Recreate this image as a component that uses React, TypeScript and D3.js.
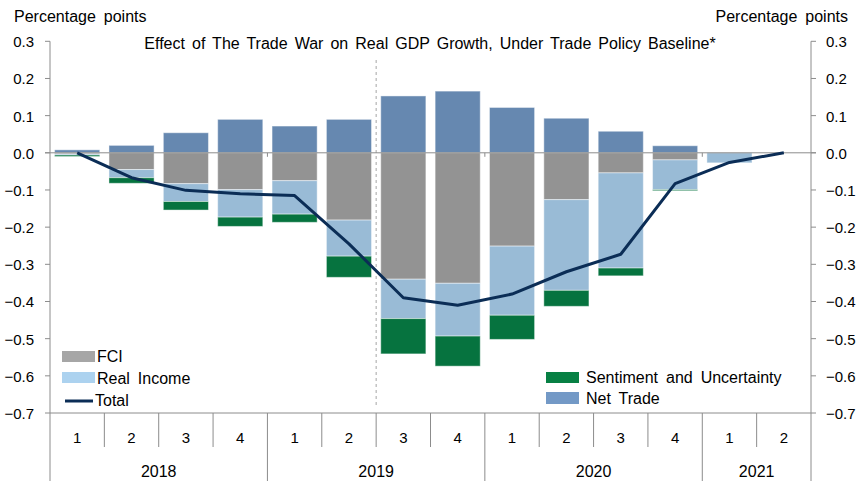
import React from "react";
import * as d3 from "d3";

const quarters = ["1", "2", "3", "4", "1", "2", "3", "4", "1", "2", "3", "4", "1", "2"];
const years = ["2018", "2019", "2020", "2021"];
const yearQuarterCounts = [4, 4, 4, 2];
const netTrade = [0.008, 0.02, 0.054, 0.09, 0.072, 0.09, 0.153, 0.166, 0.122, 0.093, 0.058, 0.019, 0, 0];
const fci = [-0.003, -0.045, -0.083, -0.099, -0.075, -0.181, -0.34, -0.351, -0.251, -0.126, -0.054, -0.019, 0, 0];
const realIncome = [-0.003, -0.022, -0.048, -0.074, -0.09, -0.097, -0.106, -0.142, -0.186, -0.244, -0.256, -0.08, -0.027, 0];
const sentiment = [-0.004, -0.015, -0.023, -0.025, -0.022, -0.057, -0.095, -0.081, -0.065, -0.043, -0.021, -0.003, 0, 0];
const total = [0, -0.067, -0.101, -0.11, -0.115, -0.245, -0.39, -0.41, -0.38, -0.32, -0.273, -0.083, -0.026, 0];
const yTicks = [0.3, 0.2, 0.1, 0.0, -0.1, -0.2, -0.3, -0.4, -0.5, -0.6, -0.7];

const W = 858;
const H = 481;
const FONT = "'Liberation Sans', Arial, sans-serif";

const seriesKeys = ["netTrade", "fci", "realIncome", "sentiment"];
const barColors: Record<string, string> = {
  netTrade: "#6688b0",
  fci: "#939393",
  realIncome: "#99bbd6",
  sentiment: "#06733f",
};

export default function App() {
  const idx = quarters.map((_, i) => i);
  const x = d3.scaleBand<number>().domain(idx).range([50, 811]).paddingInner(0.17).paddingOuter(0.085);
  const y = d3.scaleLinear().domain([-0.7, 0.3]).range([413, 41.3]);
  const step = x.step();
  const boundary = (k: number) => 50 + k * step;

  const rows = idx.map((i) => ({
    i,
    netTrade: netTrade[i],
    fci: fci[i],
    realIncome: realIncome[i],
    sentiment: sentiment[i],
  }));
  const stacked = d3.stack<any>().keys(seriesKeys).offset(d3.stackOffsetDiverging)(rows);

  const line = d3
    .line<number>()
    .x((_, i) => (x(i) as number) + x.bandwidth() / 2)
    .y((d) => y(d));

  let acc = 0;
  const yearSpans = years.map((yr, k) => {
    const start = acc;
    acc += yearQuarterCounts[k];
    return { yr, start, end: acc };
  });

  const fmt = d3.format(".1f");
  const tick = { fontFamily: FONT, fontSize: 15, fill: "#000" } as React.CSSProperties;
  const txt = { fontFamily: FONT, fontSize: 16, fill: "#000", wordSpacing: 3.5 } as React.CSSProperties;
  const title = { fontFamily: FONT, fontSize: 16, fill: "#000", wordSpacing: 2.6 } as React.CSSProperties;

  return (
    <svg width={W} height={H} style={{ position: "absolute", left: 0, top: 0, background: "#fff" }}>
      <rect width={W} height={H} fill="#fff" />
      {stacked.map((s) => (
        <g key={s.key} fill={barColors[s.key]}>
          {s.map((d, i) =>
            d[1] - d[0] === 0 ? null : (
              <rect
                key={i}
                x={x(i)}
                width={x.bandwidth()}
                y={y(d[1])}
                height={Math.abs(y(d[0]) - y(d[1]))}
                stroke="#ffffff"
                strokeOpacity={0.45}
                strokeWidth={1}
              />
            )
          )}
        </g>
      ))}
      <line x1={boundary(6)} x2={boundary(6)} y1={60} y2={406} stroke="#a6a6a6" strokeWidth={1} strokeDasharray="3,3" />
      <line x1={45} x2={816} y1={y(0)} y2={y(0)} stroke="#8c8c8c" strokeWidth={1} />
      {[4, 8, 12].map((k) => (
        <line key={k} x1={boundary(k)} x2={boundary(k)} y1={y(0)} y2={y(0) + 4} stroke="#8c8c8c" strokeWidth={1} />
      ))}
      <path d={line(total) as string} fill="none" stroke="#0b2d56" strokeWidth={3} strokeLinejoin="round" />
      <line x1={50} x2={50} y1={y(0.3)} y2={413} stroke="#8c8c8c" />
      <line x1={811} x2={811} y1={y(0.3)} y2={413} stroke="#8c8c8c" />
      <line x1={50} x2={811} y1={413} y2={413} stroke="#8c8c8c" />
      {yTicks.map((t) => (
        <g key={t}>
          <line x1={45} x2={50} y1={y(t)} y2={y(t)} stroke="#8c8c8c" />
          <line x1={811} x2={816} y1={y(t)} y2={y(t)} stroke="#8c8c8c" />
          <text x={34} y={y(t) + 6} textAnchor="end" style={tick}>
            {fmt(t)}
          </text>
          <text x={826} y={y(t) + 6} textAnchor="start" style={tick}>
            {fmt(t)}
          </text>
        </g>
      ))}
      {d3.range(quarters.length + 1).map((k) => {
        const isYear = yearSpans.some((s) => s.start === k || s.end === k);
        return (
          <line key={k} x1={boundary(k)} x2={boundary(k)} y1={413} y2={isYear ? 481 : 447} stroke="#8c8c8c" />
        );
      })}
      {quarters.map((q, i) => (
        <text key={i} x={(x(i) as number) + x.bandwidth() / 2} y={443} textAnchor="middle" style={tick}>
          {q}
        </text>
      ))}
      {yearSpans.map((s) => (
        <text key={s.yr} x={(boundary(s.start) + boundary(s.end)) / 2} y={477} textAnchor="middle" style={txt}>
          {s.yr}
        </text>
      ))}
      <text x={14} y={22} style={txt}>Percentage points</text>
      <text x={848} y={22} textAnchor="end" style={txt}>Percentage points</text>
      <text x={430} y={49} textAnchor="middle" style={title}>
        Effect of The Trade War on Real GDP Growth, Under Trade Policy Baseline*
      </text>
      <rect x={62} y={351} width={33} height={11} fill="#a6a6a6" />
      <text x={97} y={362} style={txt}>FCI</text>
      <rect x={62} y={372} width={33} height={11} fill="#acd2ef" />
      <text x={97} y={384} style={txt}>Real Income</text>
      <line x1={65} x2={93} y1={401} y2={401} stroke="#0b2d56" strokeWidth={3} />
      <text x={95} y={406} style={txt}>Total</text>
      <rect x={546} y={372} width={33} height={11} fill="#078044" />
      <text x={586} y={383} style={txt}>Sentiment and Uncertainty</text>
      <rect x={546} y={392} width={33} height={12} fill="#7399c6" />
      <text x={586} y={404} style={txt}>Net Trade</text>
    </svg>
  );
}
